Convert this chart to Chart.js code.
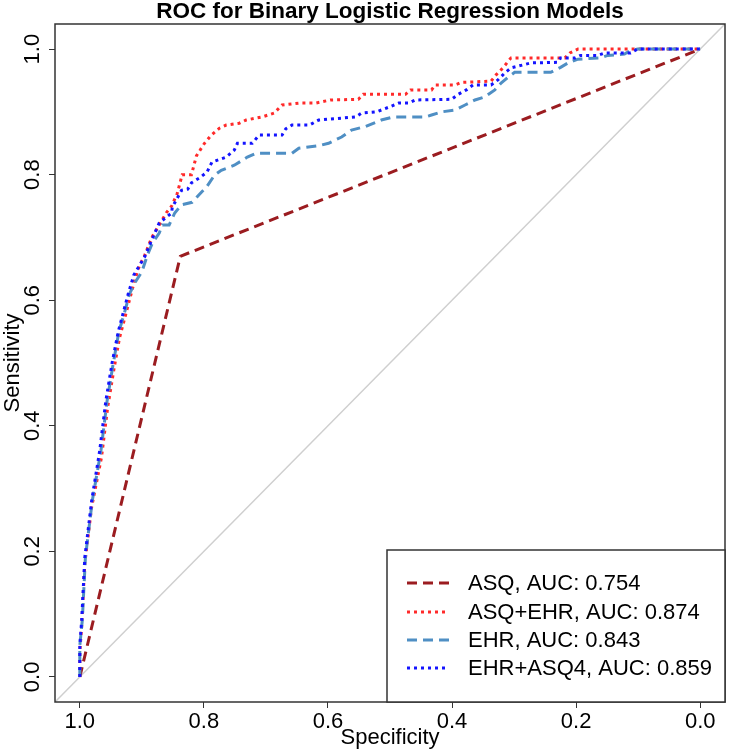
<!DOCTYPE html>
<html>
<head>
<meta charset="utf-8">
<script src="https://cdn.jsdelivr.net/npm/chart.js@4.4.1/dist/chart.umd.min.js"></script>
<style>
  body { margin: 0; background: #fff; }
  canvas { display: block; }
</style>
</head>
<body>
<canvas id="rocChart" width="731" height="750"></canvas>
<script>
const specTicks = [1.0, 0.8, 0.6, 0.4, 0.2, 0.0];
const sensTicks = [0.0, 0.2, 0.4, 0.6, 0.8, 1.0];

const seriesNames = ["ASQ, AUC: 0.754", "ASQ+EHR, AUC: 0.874", "EHR, AUC: 0.843", "EHR+ASQ4, AUC: 0.859"];

// ASQ
const asqSpec = [1.0, 0.838, 0.0];
const asqSens = [0.0, 0.67, 1.0];

// ASQ+EHR
const asqEhrSpec = [1.0, 1.0, 0.997, 0.992, 0.981, 0.965, 0.955, 0.945, 0.936, 0.928, 0.92, 0.912, 0.904, 0.896, 0.884, 0.872, 0.86, 0.852, 0.843, 0.835, 0.82, 0.812, 0.799, 0.788, 0.775, 0.764, 0.743, 0.732, 0.706, 0.687, 0.674, 0.647, 0.62, 0.596, 0.551, 0.543, 0.475, 0.467, 0.433, 0.427, 0.395, 0.385, 0.337, 0.329, 0.318, 0.305, 0.218, 0.21, 0.197, 0.0];
const asqEhrSens = [0.0, 0.04, 0.08, 0.18, 0.27, 0.35, 0.43, 0.49, 0.54, 0.57, 0.6, 0.63, 0.655, 0.67, 0.7, 0.72, 0.74, 0.75, 0.77, 0.8, 0.8, 0.83, 0.85, 0.863, 0.874, 0.879, 0.882, 0.887, 0.892, 0.898, 0.911, 0.914, 0.914, 0.919, 0.92, 0.928, 0.928, 0.935, 0.935, 0.943, 0.943, 0.947, 0.949, 0.959, 0.97, 0.986, 0.986, 0.994, 1.0, 1.0];

// EHR
const ehrSpec = [1.0, 1.0, 0.996, 0.991, 0.98, 0.966, 0.956, 0.946, 0.937, 0.928, 0.92, 0.91, 0.9, 0.891, 0.883, 0.872, 0.867, 0.856, 0.847, 0.836, 0.819, 0.804, 0.796, 0.783, 0.772, 0.751, 0.738, 0.73, 0.716, 0.658, 0.647, 0.615, 0.599, 0.578, 0.562, 0.539, 0.514, 0.494, 0.443, 0.433, 0.417, 0.395, 0.379, 0.363, 0.347, 0.331, 0.321, 0.31, 0.299, 0.241, 0.225, 0.213, 0.197, 0.16, 0.149, 0.122, 0.112, 0.101, 0.0];
const ehrSens = [0.0, 0.05, 0.09, 0.19, 0.28, 0.36, 0.44, 0.5, 0.55, 0.58, 0.61, 0.63, 0.645, 0.672, 0.691, 0.707, 0.72, 0.72, 0.739, 0.752, 0.756, 0.772, 0.78, 0.799, 0.807, 0.815, 0.823, 0.828, 0.834, 0.834, 0.842, 0.846, 0.85, 0.86, 0.871, 0.877, 0.887, 0.892, 0.892, 0.895, 0.9, 0.903, 0.911, 0.919, 0.924, 0.935, 0.946, 0.955, 0.963, 0.963, 0.971, 0.978, 0.984, 0.986, 0.99, 0.992, 0.998, 1.0, 1.0];

// EHR+ASQ4
const ehrAsq4Spec = [1.0, 1.0, 0.997, 0.992, 0.981, 0.968, 0.958, 0.948, 0.938, 0.93, 0.922, 0.913, 0.904, 0.895, 0.884, 0.872, 0.852, 0.851, 0.836, 0.826, 0.82, 0.807, 0.795, 0.787, 0.764, 0.751, 0.746, 0.722, 0.711, 0.674, 0.668, 0.658, 0.647, 0.63, 0.615, 0.555, 0.546, 0.522, 0.498, 0.486, 0.47, 0.459, 0.401, 0.39, 0.377, 0.366, 0.337, 0.326, 0.315, 0.305, 0.273, 0.23, 0.225, 0.202, 0.193, 0.165, 0.154, 0.112, 0.101, 0.0];
const ehrAsq4Sens = [0.0, 0.05, 0.09, 0.19, 0.28, 0.36, 0.44, 0.5, 0.55, 0.58, 0.61, 0.64, 0.655, 0.67, 0.696, 0.723, 0.739, 0.748, 0.775, 0.777, 0.787, 0.795, 0.804, 0.82, 0.828, 0.839, 0.85, 0.85, 0.863, 0.863, 0.873, 0.879, 0.879, 0.879, 0.887, 0.892, 0.898, 0.9, 0.909, 0.914, 0.914, 0.919, 0.92, 0.928, 0.935, 0.943, 0.943, 0.951, 0.962, 0.97, 0.978, 0.979, 0.986, 0.986, 0.99, 0.99, 0.994, 0.994, 1.0, 1.0];

// reference diagonal, spans the plot box
const diagSpec = [1.04, -0.04];
const diagSens = [-0.04, 1.04];

const pts = (xs, ys) => xs.map((x, i) => ({ x: x, y: ys[i] }));
const FONT = '"Liberation Sans", Arial, sans-serif';

const frame = {
  id: "frame",
  afterDraw(chart) {
    const { ctx, chartArea: a } = chart;
    ctx.save();
    ctx.strokeStyle = "#333";
    ctx.lineWidth = 1.5;
    ctx.strokeRect(a.left, a.top, a.right - a.left, a.bottom - a.top);

    ctx.fillStyle = "#000";
    // title
    ctx.font = "bold 22.5px " + FONT;
    ctx.textAlign = "center";
    ctx.textBaseline = "middle";
    ctx.fillText("ROC for Binary Logistic Regression Models", (a.left + a.right) / 2, 12);

    // x title
    ctx.font = "22px " + FONT;
    ctx.fillText("Specificity", (a.left + a.right) / 2, 738);

    // y ticks, rotated like R
    const ys = chart.scales.y;
    sensTicks.forEach(v => {
      ctx.save();
      ctx.translate(33, ys.getPixelForValue(v));
      ctx.rotate(-Math.PI / 2);
      ctx.fillText(v.toFixed(1), 0, 0);
      ctx.restore();
    });
    ctx.save();
    ctx.translate(13, (a.top + a.bottom) / 2);
    ctx.rotate(-Math.PI / 2);
    ctx.fillText("Sensitivity", 0, 0);
    ctx.restore();

    // legend box
    const lx = 387, ly = 550;
    ctx.fillStyle = "#fff";
    ctx.fillRect(lx, ly, a.right - lx, a.bottom - ly);
    ctx.strokeRect(lx, ly, a.right - lx, a.bottom - ly);
    const rows = [583, 612, 640, 668];
    const legendSets = [1, 2, 3, 4];
    ctx.textAlign = "left";
    ctx.font = "22px " + FONT;
    legendSets.forEach((di, i) => {
      const ds = chart.data.datasets[di];
      ctx.save();
      ctx.strokeStyle = ds.borderColor;
      ctx.lineWidth = ds.borderWidth;
      ctx.setLineDash(ds.borderDash);
      ctx.beginPath();
      ctx.moveTo(407, rows[i]);
      ctx.lineTo(449, rows[i]);
      ctx.stroke();
      ctx.restore();
      ctx.fillStyle = "#000";
      ctx.fillText(seriesNames[i], 468, rows[i] + 1);
    });
    ctx.restore();
  }
};

new Chart(document.getElementById("rocChart"), {
  type: "scatter",
  data: {
    datasets: [
      {
        label: "diagonal",
        data: pts(diagSpec, diagSens),
        borderColor: "#cfcfcf",
        borderWidth: 1.5,
        borderDash: [],
        order: 4,
      },
      {
        label: seriesNames[0],
        data: pts(asqSpec, asqSens),
        borderColor: "#9b1c20",
        borderWidth: 3,
        borderDash: [10, 6],
        order: 3,
      },
      {
        label: seriesNames[1],
        data: pts(asqEhrSpec, asqEhrSens),
        borderColor: "#ff2a2a",
        borderWidth: 3,
        borderDash: [3, 4],
        order: 2,
      },
      {
        label: seriesNames[2],
        data: pts(ehrSpec, ehrSens),
        borderColor: "#4f8fc4",
        borderWidth: 3,
        borderDash: [10, 6],
        order: 1,
      },
      {
        label: seriesNames[3],
        data: pts(ehrAsq4Spec, ehrAsq4Sens),
        borderColor: "#1414ff",
        borderWidth: 3,
        borderDash: [3, 4],
        order: 0,
      },
    ],
  },
  options: {
    responsive: false,
    animation: false,
    showLine: true,
    elements: { point: { radius: 0, hoverRadius: 0 }, line: { tension: 0 } },
    layout: { padding: { top: 24, right: 6, left: 0, bottom: 0 } },
    plugins: { legend: { display: false }, tooltip: { enabled: false } },
    scales: {
      x: {
        type: "linear",
        reverse: true,
        min: -0.04,
        max: 1.04,
        afterBuildTicks: s => { s.ticks = specTicks.map(v => ({ value: v })); },
        afterFit: s => { s.height = 48; },
        ticks: {
          color: "#000",
          font: { family: FONT, size: 22 },
          padding: 1,
          maxRotation: 0,
          callback: v => v.toFixed(1),
        },
        grid: { drawOnChartArea: false, tickLength: 6, color: "#333" },
        border: { display: false },
      },
      y: {
        type: "linear",
        min: -0.04,
        max: 1.04,
        afterBuildTicks: s => { s.ticks = sensTicks.map(v => ({ value: v })); },
        afterFit: s => { s.width = 55; },
        ticks: { display: false },
        grid: { drawOnChartArea: false, tickLength: 6, color: "#333" },
        border: { display: false },
      },
    },
  },
  plugins: [frame],
});
</script>
</body>
</html>
